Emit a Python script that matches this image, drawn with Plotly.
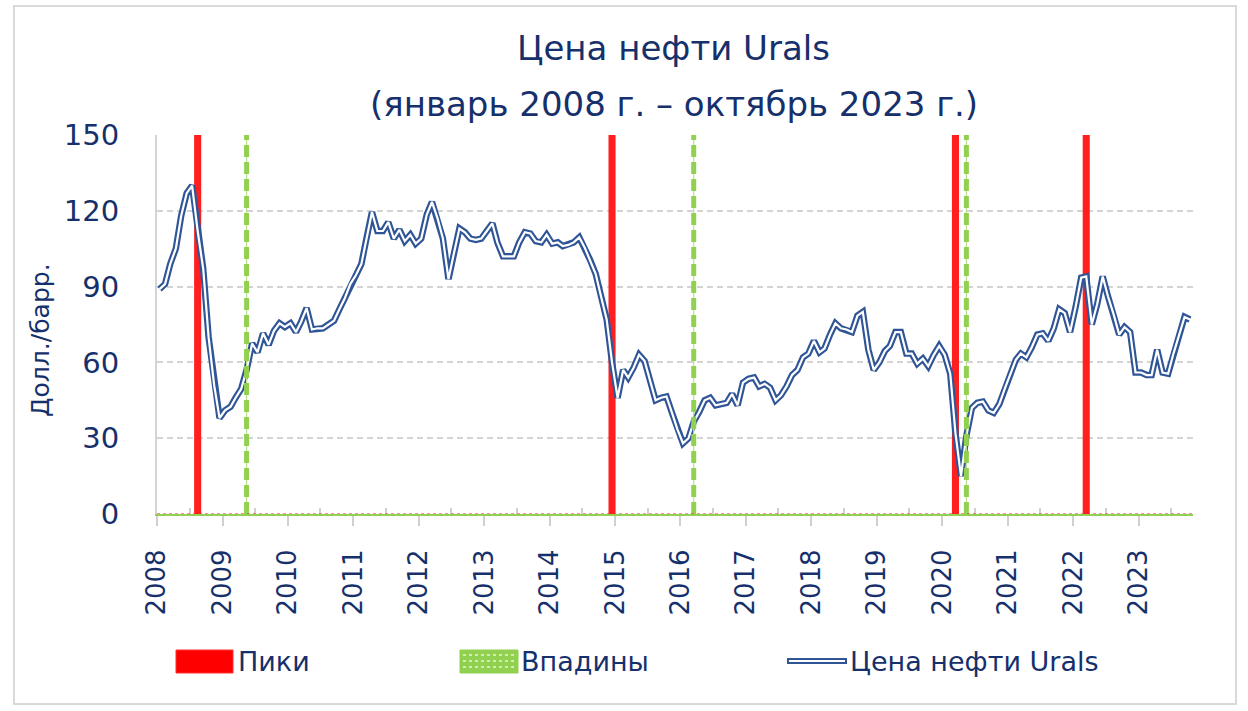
import plotly.graph_objects as go

# ---------------- data ----------------
years = list(range(2008, 2024))
tick_text = [str(y) for y in years]

urals_2008 = [89, 91, 99, 105, 118, 127, 130, 112, 97, 70, 51, 38]
urals_2009 = [41, 42.5, 46, 49.5, 57, 67.5, 64, 71.5, 67, 72.5, 75.5, 74]
urals_2010 = [75.5, 72, 76, 81.5, 73, 73.5, 73.5, 75, 76.5, 81, 85.5, 91]
urals_2011 = [94.5, 99, 109, 119.5, 112, 112, 115.5, 109, 112.5, 108, 110.5, 107]
urals_2012 = [109, 118.5, 123.5, 117, 109, 93, 103, 113, 111.5, 109, 108.5, 109]
urals_2013 = [112, 115, 107.5, 102, 102, 102, 107.5, 111.5, 111, 108, 107.5, 110.5]
urals_2014 = [107, 107.5, 106, 106.5, 107.5, 109.5, 105.5, 100.5, 95, 86, 77, 60]
urals_2015 = [46, 57, 54, 58, 63, 60.5, 53, 45, 46, 46.5, 40, 33.5]
urals_2016 = [28, 30, 36.5, 40.5, 45, 46, 43, 43.5, 44, 47.5, 43, 52]
urals_2017 = [53.5, 54, 50.5, 51.5, 50, 45, 47, 50.5, 55, 57, 62, 63.5]
urals_2018 = [68.5, 64, 65.5, 71, 75.5, 73.5, 73, 72, 78.5, 80, 65, 57]
urals_2019 = [60, 64.5, 66.5, 72, 72, 63.5, 63.5, 59.5, 61.5, 58.5, 63, 66.5]
urals_2020 = [63, 55.5, 32, 15, 31, 42, 44, 44.5, 41, 40, 43.5, 49.5]
urals_2021 = [55, 61, 63.5, 62, 66, 71, 71.5, 68.5, 73.5, 81, 79.5, 72]
urals_2022 = [82, 93.5, 94, 75, 83, 94, 86, 79, 71, 74, 72, 56]
urals_2023 = [56, 55, 55, 65, 56, 55.5, 63.5, 71, 78, 77]

peak_months = ["2008-08", "2014-12", "2020-03", "2022-03"]
trough_months = ["2009-05", "2016-03", "2020-05"]
bar_top = 150

series_name = "Цена нефти Urals"
peak_name = "Пики"
trough_name = "Впадины"
title_line1 = "Цена нефти Urals"
title_line2 = "(январь 2008 г. – октябрь 2023 г.)"
y_title = "Долл./барр."

# ---------------- build ----------------
prices = (urals_2008 + urals_2009 + urals_2010 + urals_2011 + urals_2012 + urals_2013
          + urals_2014 + urals_2015 + urals_2016 + urals_2017 + urals_2018 + urals_2019
          + urals_2020 + urals_2021 + urals_2022 + urals_2023)
dates = [f"{2008 + i // 12}-{i % 12 + 1:02d}-15" for i in range(len(prices))]
peak_x = [m + "-15" for m in peak_months]
trough_x, trough_y = [], []
for m in trough_months:
    trough_x += [m + "-15", m + "-15", None]
    trough_y += [0, bar_top, None]

NAVY = "#16306b"
FONT = "DejaVu Sans"
MONTH_MS = 30.44 * 86400000

fig = go.Figure()
fig.add_trace(go.Bar(x=peak_x, y=[bar_top] * len(peak_x), name=peak_name,
                     width=1.3 * MONTH_MS, marker=dict(color="#ff1f1f", line=dict(width=0)),
                     showlegend=False))
fig.add_trace(go.Scatter(x=dates, y=prices, mode="lines", name=series_name,
                         line=dict(color="#2f5597", width=6.5), showlegend=False))
fig.add_trace(go.Scatter(x=dates, y=prices, mode="lines", name=series_name + " ",
                         line=dict(color="#ffffff", width=2.2), showlegend=False,
                         hoverinfo="skip"))
fig.add_trace(go.Scatter(x=trough_x, y=trough_y, mode="lines", name=trough_name + " ",
                         line=dict(color="#b9df90", width=1.2), showlegend=False,
                         hoverinfo="skip"))
fig.add_trace(go.Scatter(x=trough_x, y=trough_y, mode="lines", name=trough_name,
                         line=dict(color="#92d050", width=5, dash="12px,5px"),
                         showlegend=False))

W, H = 1248, 711
L, R, T, B = 157, 55, 135, 197
PW, PH = W - L - R, H - T - B


def px(x):
    return (x - L) / PW


def py(y):
    return (H - B - y) / PH


shapes = [
    # outer frame
    dict(type="rect", xref="paper", yref="paper", x0=px(14), x1=px(1236), y0=py(704), y1=py(6),
         line=dict(color="#d9d9d9", width=2), fillcolor="rgba(0,0,0,0)", layer="below"),
    # red dotted zero line
    dict(type="line", xref="paper", yref="y", x0=0, x1=1, y0=0, y1=0,
         line=dict(color="#ff2020", width=1.2, dash="dot")),
    # legend swatches
    dict(type="rect", xref="paper", yref="paper", x0=px(176), x1=px(233), y0=py(673), y1=py(650),
         fillcolor="#ff0000", line=dict(color="#ff3030", width=1)),
    dict(type="rect", xref="paper", yref="paper", x0=px(460), x1=px(518), y0=py(673), y1=py(650),
         fillcolor="#92d050", line=dict(color="#92d050", width=1)),
    dict(type="line", xref="paper", yref="paper", x0=px(787), x1=px(847), y0=py(661), y1=py(661),
         line=dict(color="#2f5597", width=6)),
    dict(type="line", xref="paper", yref="paper", x0=px(789), x1=px(845), y0=py(661), y1=py(661),
         line=dict(color="#ffffff", width=2)),
]
for yy in (655, 661, 667):
    shapes.append(dict(type="line", xref="paper", yref="paper", x0=px(463), x1=px(515),
                       y0=py(yy), y1=py(yy), line=dict(color="#e8f5d8", width=1.5, dash="dot")))

annotations = [
    dict(text=title_line2, xref="paper", yref="paper", x=px(674), y=py(104),
         xanchor="center", yanchor="middle", showarrow=False,
         font=dict(family=FONT, size=34, color=NAVY)),
    dict(text=y_title, xref="paper", yref="paper", x=px(40), y=py(340), textangle=-90,
         xanchor="center", yanchor="middle", showarrow=False,
         font=dict(family=FONT, size=25, color=NAVY)),
    dict(text=peak_name, xref="paper", yref="paper", x=px(236), y=py(661),
         xanchor="left", yanchor="middle", showarrow=False,
         font=dict(family=FONT, size=27, color=NAVY)),
    dict(text=trough_name, xref="paper", yref="paper", x=px(519), y=py(661),
         xanchor="left", yanchor="middle", showarrow=False,
         font=dict(family=FONT, size=27, color=NAVY)),
    dict(text=series_name, xref="paper", yref="paper", x=px(848), y=py(661),
         xanchor="left", yanchor="middle", showarrow=False,
         font=dict(family=FONT, size=27, color=NAVY)),
]

fig.update_layout(
    width=W, height=H,
    margin=dict(l=L, r=R, t=T, b=B),
    paper_bgcolor="white", plot_bgcolor="white",
    font=dict(family=FONT, color=NAVY),
    title=dict(text=title_line1, x=673.5 / W, xanchor="center", y=1 - 48 / H, yanchor="middle",
               font=dict(family=FONT, size=34, color=NAVY)),
    showlegend=False,
    barmode="overlay",
    shapes=shapes,
    annotations=annotations,
)
fig.update_xaxes(
    type="date",
    range=["2008-01-01", "2023-11-01"],
    tickmode="array",
    tickvals=[f"{y}-01-01" for y in years],
    ticktext=tick_text,
    tickangle=-90,
    ticks="outside", ticklen=10, tickwidth=2, tickcolor="#d0d0d0",
    minor=dict(ticks="inside", ticklen=6, tickwidth=2, tickcolor="#d0d0d0",
               tickmode="linear", tick0="2008-07-01", dtick="M12", showgrid=False),
    ticklabelstandoff=13,
    tickfont=dict(family=FONT, size=26, color=NAVY),
    showline=True, linecolor="#92d050", linewidth=2,
    showgrid=False, zeroline=False,
)
fig.update_yaxes(
    range=[0, 150],
    tickmode="array", tickvals=[0, 30, 60, 90, 120, 150],
    tickfont=dict(family=FONT, size=29, color=NAVY),
    ticklabelstandoff=30,
    showgrid=True, gridcolor="#d4d4d4", gridwidth=1.5, griddash="6px,4px",
    showline=True, linecolor="#d4d4d4", linewidth=2,
    zeroline=False,
)

fig.write_html("out.html", config={"displayModeBar": False},
               post_script="document.body.style.margin='0';document.body.style.overflow='hidden';")
